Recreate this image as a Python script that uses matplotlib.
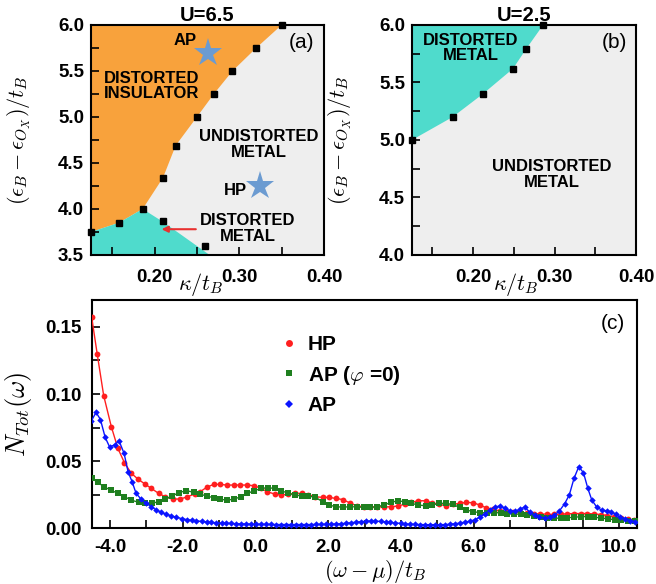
import matplotlib
matplotlib.use("Agg")
import matplotlib.pyplot as plt
from matplotlib.ticker import MultipleLocator, FormatStrFormatter
from matplotlib.lines import Line2D

plt.rcParams['font.family'] = ['Liberation Sans', 'DejaVu Sans']
plt.rcParams['font.weight'] = 'bold'
plt.rcParams['mathtext.fontset'] = 'cm'

# ---------------- panel (a): U = 6.5 ----------------
a_ins_kappa = [0.125, 0.158, 0.186, 0.210, 0.225, 0.250, 0.270, 0.292, 0.320, 0.350]
a_ins_eps = [3.75, 3.85, 4.00, 4.34, 4.69, 5.00, 5.25, 5.50, 5.75, 6.00]
a_dm_edge_kappa = [0.186, 0.210, 0.265]
a_dm_edge_eps = [4.00, 3.86, 3.50]
a_dm_kappa = [0.210, 0.260]
a_dm_eps = [3.87, 3.60]
ap_star = (0.263, 5.70)
hp_star = (0.325, 4.25)

# ---------------- panel (b): U = 2.5 ----------------
b_kappa = [0.125, 0.175, 0.212, 0.249, 0.265, 0.286]
b_eps = [5.00, 5.20, 5.40, 5.62, 5.79, 6.00]

# ---------------- panel (c): total DOS ----------------
hp_w = [-4.5, -4.35, -4.17, -3.96, -3.78, -3.60, -3.41, -3.23, -3.04, -2.86,
        -2.66, -2.48, -2.27, -2.06, -1.87, -1.67, -1.52, -1.34, -1.15, -0.97,
        -0.79, -0.60, -0.42, -0.23, -0.03, 0.15, 0.33, 0.53, 0.71, 0.90,
        1.08, 1.28, 1.46, 1.65, 1.85, 2.03, 2.22, 2.42, 2.61, 2.80,
        2.98, 3.16, 3.34, 3.53, 3.73, 3.91, 4.10, 4.28, 4.48, 4.68,
        4.86, 5.05, 5.23, 5.42, 5.62, 5.80, 5.99, 6.17, 6.35, 6.54,
        6.72, 6.91, 7.09, 7.28, 7.46, 7.65, 7.83, 8.02, 8.20, 8.39,
        8.57, 8.76, 8.94, 9.13, 9.31, 9.50, 9.68, 9.87, 10.05, 10.24, 10.42]
hp_n = [0.157, 0.130, 0.0987, 0.0756, 0.0595, 0.0488, 0.0409, 0.0367, 0.033, 0.0297,
        0.026, 0.0235, 0.0218, 0.0218, 0.0235, 0.0255, 0.0272, 0.0305, 0.0327, 0.0327,
        0.0322, 0.0322, 0.0322, 0.0322, 0.0317, 0.0297, 0.0272, 0.0255, 0.0248, 0.0255,
        0.026, 0.026, 0.0248, 0.0235, 0.023, 0.023, 0.0222, 0.0213, 0.0186, 0.0166,
        0.016, 0.016, 0.016, 0.016, 0.016, 0.0166, 0.0178, 0.0193, 0.0205, 0.0205,
        0.019, 0.0178, 0.0168, 0.0178, 0.0186, 0.0193, 0.019, 0.0173, 0.0152, 0.014,
        0.013, 0.0125, 0.012, 0.0118, 0.0115, 0.011, 0.0107, 0.0105, 0.0103, 0.0105,
        0.0108, 0.011, 0.011, 0.011, 0.0107, 0.0102, 0.0095, 0.0085, 0.0078, 0.007, 0.0062]

ap0_w = [-4.5, -4.33, -4.17, -3.98, -3.78, -3.60, -3.41, -3.21, -3.03, -2.85,
         -2.66, -2.48, -2.29, -2.11, -1.90, -1.69, -1.52, -1.34, -1.15, -0.97,
         -0.79, -0.60, -0.40, -0.22, -0.03, 0.16, 0.34, 0.53, 0.71, 0.91,
         1.09, 1.28, 1.46, 1.65, 1.85, 2.03, 2.22, 2.41, 2.61, 2.80,
         2.98, 3.16, 3.34, 3.53, 3.73, 3.91, 4.10, 4.28, 4.48, 4.68,
         4.86, 5.05, 5.23, 5.42, 5.62, 5.80, 5.99, 6.17, 6.37, 6.55,
         6.74, 6.92, 7.10, 7.29, 7.47, 7.66, 7.84, 8.03, 8.21, 8.40,
         8.58, 8.77, 8.95, 9.14, 9.32, 9.51, 9.69, 9.88, 10.06, 10.25, 10.43]
ap0_n = [0.0372, 0.0342, 0.031, 0.0285, 0.026, 0.0235, 0.021, 0.0193, 0.0186, 0.0186,
         0.0198, 0.0216, 0.024, 0.0265, 0.028, 0.0268, 0.0255, 0.024, 0.0228, 0.0216,
         0.021, 0.0216, 0.0235, 0.026, 0.028, 0.0297, 0.0302, 0.0297, 0.028, 0.026,
         0.0248, 0.024, 0.024, 0.023, 0.0198, 0.0173, 0.016, 0.0158, 0.016, 0.016,
         0.0155, 0.0155, 0.016, 0.0173, 0.0193, 0.0205, 0.0198, 0.0186, 0.0173, 0.0168,
         0.0173, 0.0186, 0.0186, 0.0178, 0.0155, 0.0136, 0.0124, 0.0116, 0.0116, 0.0117,
         0.0115, 0.011, 0.0107, 0.0104, 0.0099, 0.0092, 0.0085, 0.0078, 0.0074, 0.0077,
         0.0079, 0.0082, 0.0087, 0.0087, 0.0082, 0.0077, 0.0069, 0.0064, 0.006, 0.0056, 0.0057]

ap_w = [-4.51, -4.38, -4.26, -4.13, -4.01, -3.87, -3.75, -3.61, -3.50, -3.39,
        -3.28, -3.14, -3.00, -2.86, -2.72, -2.59, -2.45, -2.31, -2.17, -2.03,
        -1.89, -1.75, -1.62, -1.48, -1.34, -1.21, -1.07, -0.93, -0.80, -0.66,
        -0.52, -0.39, -0.25, -0.11, 0.02, 0.16, 0.30, 0.43, 0.57, 0.71,
        0.84, 0.98, 1.12, 1.25, 1.39, 1.53, 1.66, 1.80, 1.94, 2.07,
        2.21, 2.35, 2.48, 2.62, 2.76, 2.89, 3.03, 3.17, 3.30, 3.44,
        3.58, 3.71, 3.85, 3.99, 4.12, 4.26, 4.40, 4.53, 4.67, 4.81,
        4.94, 5.08, 5.22, 5.35, 5.49, 5.63, 5.76, 5.90, 6.04, 6.17,
        6.31, 6.45, 6.58, 6.72, 6.86, 6.99, 7.13, 7.27, 7.40, 7.54,
        7.68, 7.81, 7.95, 8.09, 8.22, 8.36, 8.50, 8.63, 8.76, 8.89,
        9.02, 9.14, 9.25, 9.39, 9.52, 9.66, 9.78, 9.91, 10.03, 10.17,
        10.31, 10.44]
ap_n = [0.080, 0.0863, 0.081, 0.0677, 0.0607, 0.062, 0.0652, 0.0558, 0.0421, 0.0347,
        0.026, 0.0216, 0.0186, 0.016, 0.0136, 0.0119, 0.0104, 0.0092, 0.0082, 0.0072,
        0.0065, 0.0059, 0.0055, 0.0051, 0.0047, 0.0044, 0.0041, 0.0039, 0.0037, 0.0036,
        0.0034, 0.0033, 0.0032, 0.0031, 0.0030, 0.0030, 0.0029, 0.0029, 0.0028, 0.0028,
        0.0028, 0.0028, 0.0028, 0.0028, 0.0028, 0.0028, 0.0029, 0.0029, 0.0030, 0.0031,
        0.0032, 0.0034, 0.0037, 0.0041, 0.0045, 0.0049, 0.0052, 0.0054, 0.0053, 0.0051,
        0.0048, 0.0044, 0.0040, 0.0036, 0.0033, 0.0030, 0.0029, 0.0028, 0.0027, 0.0027,
        0.0027, 0.0027, 0.0028, 0.0030, 0.0034, 0.0039, 0.0046, 0.0053, 0.0064, 0.0083,
        0.0108, 0.0135, 0.0158, 0.0166, 0.0150, 0.0132, 0.0126, 0.0141, 0.0158, 0.0122,
        0.0096, 0.0083, 0.0077, 0.0081, 0.0097, 0.0130, 0.0182, 0.0248, 0.0372, 0.0458,
        0.0414, 0.0297, 0.0210, 0.0156, 0.0136, 0.0130, 0.0124, 0.0104, 0.0082, 0.0070,
        0.0057, 0.0050]

ORANGE = '#f8a23c'
TEAL = '#4fdbcc'
GRAY = '#eeeeee'
STAR = '#6b9bd1'

fig = plt.figure(figsize=(6.56, 5.84), dpi=100)
ax_a = fig.add_axes([0.1387, 0.5634, 0.3552, 0.3938])
ax_b = fig.add_axes([0.628, 0.5634, 0.3415, 0.3938])
ax_c = fig.add_axes([0.1398, 0.0954, 0.8317, 0.3909])

XLIM = (0.125, 0.40)


def style_phase(ax, ylo, yhi, ylab_x, xlab_x):
    ax.set_facecolor(GRAY)
    ax.set_xlim(*XLIM)
    ax.set_ylim(ylo, yhi)
    ax.xaxis.set_major_locator(MultipleLocator(0.1))
    ax.xaxis.set_minor_locator(MultipleLocator(0.05))
    ax.yaxis.set_major_locator(MultipleLocator(0.5))
    ax.yaxis.set_minor_locator(MultipleLocator(0.25))
    ax.xaxis.set_major_formatter(FormatStrFormatter('%.2f'))
    ax.yaxis.set_major_formatter(FormatStrFormatter('%.1f'))
    ax.tick_params(which='both', direction='in', length=5.5, width=1.2,
                   top=False, right=False, labelsize=13.5)
    ax.tick_params(axis='x', pad=10)
    ax.tick_params(axis='y', pad=5)
    for s in ax.spines.values():
        s.set_linewidth(1.5)
    ax.set_xlabel(r'$\kappa/t_B$', fontsize=16)
    ax.xaxis.set_label_coords(xlab_x, -0.07)
    ax.set_ylabel(r'$(\epsilon_B-\epsilon_{O_X})/t_B$', fontsize=16)
    ax.yaxis.set_label_coords(ylab_x, 0.5)


# ---- panel (a)
style_phase(ax_a, 3.5, 6.0, -0.25, 0.47)
orange_poly = [(XLIM[0], 6.0)] + list(zip(a_ins_kappa[::-1], a_ins_eps[::-1])) + [(XLIM[0], a_ins_eps[0])]
ax_a.fill([p[0] for p in orange_poly], [p[1] for p in orange_poly], color=ORANGE, lw=0, zorder=1)
teal_poly = [(XLIM[0], 3.5)] + list(zip(a_ins_kappa[:3], a_ins_eps[:3])) + list(zip(a_dm_edge_kappa[1:], a_dm_edge_eps[1:]))
ax_a.fill([p[0] for p in teal_poly], [p[1] for p in teal_poly], color=TEAL, lw=0, zorder=1)
ax_a.plot(a_ins_kappa, a_ins_eps, 's', color='black', ms=4.5, clip_on=False, zorder=5)
ax_a.plot(a_dm_kappa, a_dm_eps, 's', color='black', ms=4.5, clip_on=False, zorder=5)
ax_a.plot(*ap_star, '*', color=STAR, ms=21, mew=0, zorder=4)
ax_a.plot(*hp_star, '*', color=STAR, ms=21, mew=0, zorder=4)
ax_a.set_title('U=6.5', fontsize=14.5, fontweight='bold', pad=2)
ax_a.text(0.236, 5.83, 'AP', fontsize=12, ha='center', va='center')
ax_a.text(0.196, 5.335, 'DISTORTED\nINSULATOR', fontsize=12, ha='center', va='center', linespacing=1.05)
ax_a.text(0.323, 4.70, 'UNDISTORTED\nMETAL', fontsize=12, ha='center', va='center', linespacing=1.05)
ax_a.text(0.295, 4.20, 'HP', fontsize=12, ha='center', va='center')
ax_a.text(0.31, 3.79, 'DISTORTED\nMETAL', fontsize=12, ha='center', va='center', linespacing=1.05)
ax_a.text(0.374, 5.81, '(a)', fontsize=15, fontweight='normal', ha='center', va='center')
ax_a.annotate('', xy=(0.205, 3.78), xytext=(0.252, 3.78),
              arrowprops=dict(arrowstyle='-|>', color='#e8302f', lw=1.5, mutation_scale=9),
              zorder=6)

# ---- panel (b)
style_phase(ax_b, 4.0, 6.0, -0.26, 0.465)
teal_b = [(XLIM[0], 6.0)] + list(zip(b_kappa[::-1], b_eps[::-1]))
ax_b.fill([p[0] for p in teal_b], [p[1] for p in teal_b], color=TEAL, lw=0, zorder=1)
ax_b.plot(b_kappa, b_eps, 's', color='black', ms=4.5, clip_on=False, zorder=5)
ax_b.set_title('U=2.5', fontsize=14.5, fontweight='bold', pad=2)
ax_b.text(0.197, 5.80, 'DISTORTED\nMETAL', fontsize=12, ha='center', va='center', linespacing=1.05)
ax_b.text(0.297, 4.70, 'UNDISTORTED\nMETAL', fontsize=12, ha='center', va='center', linespacing=1.05)
ax_b.text(0.373, 5.845, '(b)', fontsize=15, fontweight='normal', ha='center', va='center')

# ---- panel (c)
RED = '#ff1f1f'
GREEN = '#1f7f1f'
BLUE = '#0a14ff'
ax_c.plot(hp_w, hp_n, '-o', color=RED, ms=4.2, lw=1.0, mew=0, zorder=3)
ax_c.plot(ap0_w, ap0_n, '-s', color=GREEN, ms=4.0, lw=1.0, mew=0, zorder=3)
ax_c.plot(ap_w, ap_n, '-D', color=BLUE, ms=3.3, lw=1.0, mew=0, zorder=4)
ax_c.set_xlim(-4.5, 10.5)
ax_c.set_ylim(0.0, 0.17)
ax_c.xaxis.set_major_locator(MultipleLocator(2.0))
ax_c.xaxis.set_minor_locator(MultipleLocator(1.0))
ax_c.yaxis.set_major_locator(MultipleLocator(0.05))
ax_c.yaxis.set_minor_locator(MultipleLocator(0.025))
ax_c.xaxis.set_major_formatter(FormatStrFormatter('%.1f'))
ax_c.yaxis.set_major_formatter(FormatStrFormatter('%.2f'))
ax_c.tick_params(which='both', direction='in', length=5.5, width=1.2,
                 top=False, right=False, labelsize=13.5)
ax_c.tick_params(axis='x', pad=8)
ax_c.tick_params(axis='y', pad=7)
for s in ax_c.spines.values():
    s.set_linewidth(1.5)
ax_c.set_xlabel(r'$(\omega-\mu)/t_B$', fontsize=16)
ax_c.xaxis.set_label_coords(0.52, -0.128)
ax_c.set_ylabel(r'$N_{Tot}(\omega)$', fontsize=19)
ax_c.yaxis.set_label_coords(-0.105, 0.5)
ax_c.text(0.955, 0.898, '(c)', transform=ax_c.transAxes, fontsize=15,
          fontweight='normal', ha='center', va='center')
handles = [Line2D([], [], marker='o', color=RED, ls='none', ms=5, mew=0),
           Line2D([], [], marker='s', color=GREEN, ls='none', ms=5, mew=0),
           Line2D([], [], marker='D', color=BLUE, ls='none', ms=4.5, mew=0)]
labels = ['HP', r'AP ($\varphi$ =0)', 'AP']
ax_c.legend(handles, labels, loc='upper left', bbox_to_anchor=(0.32, 0.91),
            frameon=False, handlelength=0.8, handletextpad=0.5, labelspacing=0.45,
            borderpad=0.2, prop={'size': 15, 'weight': 'bold'})

fig.savefig('out.png', dpi=100)
